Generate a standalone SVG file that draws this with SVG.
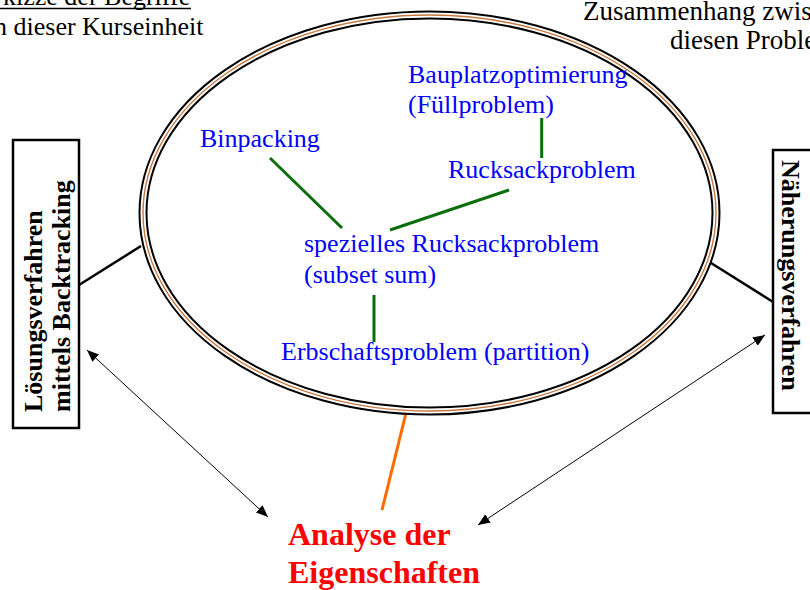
<svg xmlns="http://www.w3.org/2000/svg" width="810" height="590" viewBox="0 0 810 590">
<defs>
<style>
.t{font-family:"Liberation Serif","Times New Roman",serif;font-size:26px}
.blk{fill:#000}
.blue{fill:#0000ff}
.b{font-weight:bold}
.title{font-family:"Liberation Serif","Times New Roman",serif;font-size:32px;font-weight:bold;fill:#ff0000}
.g{stroke:#0b6e0b;stroke-width:3;fill:none}
.k{stroke:#000;stroke-width:2.5;fill:none}
.ar{stroke:#000;stroke-width:1;fill:none;marker-start:url(#ah);marker-end:url(#ah)}
.box{fill:#fff;stroke:#000;stroke-width:2.5}
</style>
<marker id="ah" viewBox="0 0 12 10" refX="12" refY="5" markerWidth="12" markerHeight="10" markerUnits="userSpaceOnUse" orient="auto-start-reverse">
<path d="M0,0 L12,5 L0,10 z" fill="#000"/>
</marker>
</defs>
<rect width="810" height="590" fill="#fff"/>

<g id="note-left">
<text class="t blk" x="3" y="5">kizze der Begriffe</text>
<line x1="0" y1="8.5" x2="191" y2="8.5" stroke="#000" stroke-width="1.5"/>
<text class="t blk" x="-6" y="35">n dieser Kurseinheit</text>
</g>
<g id="note-right">
<text class="t blk" x="583" y="20" style="font-size:27px">Zusammenhang zwis</text>
<text class="t blk" x="670" y="49" style="font-size:27px">diesen Proble</text>
</g>

<g id="ellipse">
<ellipse cx="429.5" cy="213" rx="286.5" ry="198" fill="#fff" stroke="#000" stroke-width="9"/>
<ellipse cx="429.5" cy="213" rx="286.5" ry="198" fill="none" stroke="#fff" stroke-width="5"/>
<ellipse cx="429.5" cy="213" rx="286.5" ry="198" fill="none" stroke="#c8783e" stroke-width="1.4"/>
</g>

<g id="box-left">
<rect class="box" x="13" y="140" width="66" height="288"/>
<text class="t blk b" transform="translate(42,412) rotate(-90)">Lösungsverfahren</text>
<text class="t blk b" transform="translate(70,412) rotate(-90)">mittels Backtracking</text>
</g>
<g id="box-right">
<rect class="box" x="773" y="150" width="60" height="263"/>
<text class="t blk b" transform="translate(782,160) rotate(90)">Näherungsverfahren</text>
</g>

<g id="connectors">
<line class="g" x1="270" y1="158" x2="342" y2="228"/>
<line class="g" x1="509" y1="190" x2="390" y2="230"/>
<line class="g" x1="541.7" y1="118" x2="541.7" y2="158"/>
<line class="g" x1="374" y1="295" x2="374" y2="342"/>
<line class="k" x1="79" y1="285" x2="141" y2="246"/>
<line class="k" x1="711" y1="263" x2="773" y2="302"/>
<line stroke="#ff6a00" stroke-width="3" x1="405.5" y1="415" x2="382" y2="510"/>
<line class="ar" x1="87" y1="350" x2="268" y2="517"/>
<line class="ar" x1="765" y1="335" x2="478" y2="525"/>
</g>

<g id="n-bauplatz">
<text class="t blue" x="408" y="83">Bauplatzoptimierung</text>
<text class="t blue" x="408" y="113">(Füllproblem)</text>
</g>
<g id="n-binpacking"><text class="t blue" x="200" y="147">Binpacking</text></g>
<g id="n-rucksack"><text class="t blue" x="448" y="178">Rucksackproblem</text></g>
<g id="n-speziell">
<text class="t blue" x="304" y="252">spezielles Rucksackproblem</text>
<text class="t blue" x="304" y="283">(subset sum)</text>
</g>
<g id="n-erbschaft"><text class="t blue" x="281" y="360">Erbschaftsproblem (partition)</text></g>
<g id="n-analyse">
<text class="title" x="288" y="545">Analyse der</text>
<text class="title" x="288" y="583">Eigenschaften</text>
</g>
</svg>
